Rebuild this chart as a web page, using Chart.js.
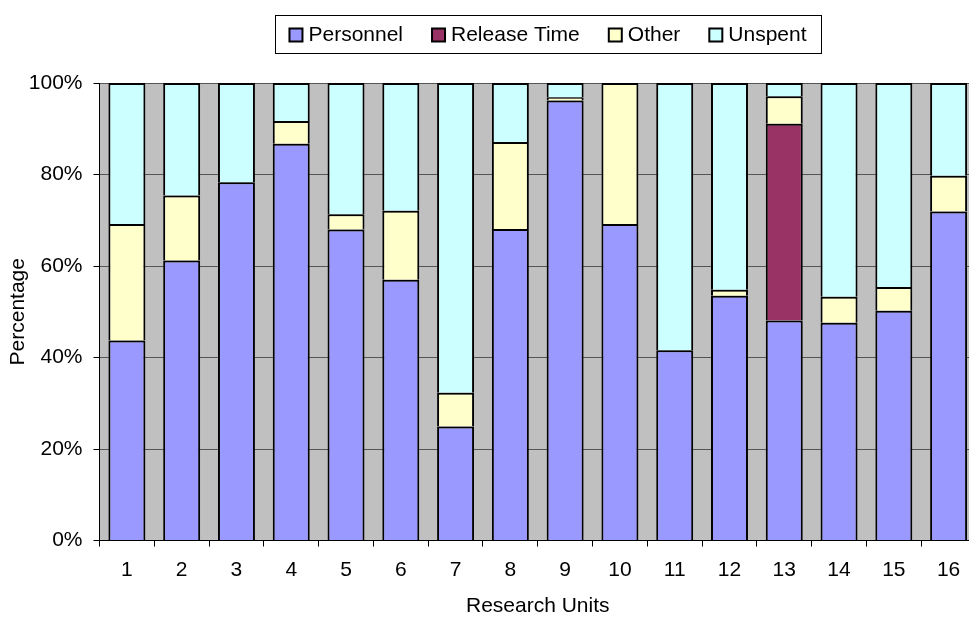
<!DOCTYPE html>
<html>
<head>
<meta charset="utf-8">
<title>Research Units Budget Use</title>
<script src="https://cdn.jsdelivr.net/npm/chart.js@4.4.1/dist/chart.umd.min.js"></script>
<style>
  html, body { margin: 0; padding: 0; background: #ffffff; overflow: hidden; width: 969px; height: 620px; }
  #wrap { position: relative; width: 980px; height: 620px; }
</style>
</head>
<body>
<div id="wrap"><canvas id="chart" width="980" height="620"></canvas></div>
<script>
// Share of each research unit's budget, in percent
const units = ['1', '2', '3', '4', '5', '6', '7', '8', '9', '10', '11', '12', '13', '14', '15', '16'];
const personnel   = [43.7, 61.2, 78.3, 86.7, 68.0, 57.0, 24.9, 68.1, 96.2, 69.2, 41.6, 53.5, 48.1, 47.6, 50.2, 71.9];
const releaseTime = [0, 0, 0, 0, 0, 0, 0, 0, 0, 0, 0, 0, 43.0, 0, 0, 0];
const other       = [25.5, 14.2, 0, 5.0, 3.3, 15.1, 7.4, 19.0, 0.7, 30.8, 0, 1.3, 6.0, 5.7, 5.2, 7.8];
const unspent     = [30.8, 24.6, 21.7, 8.3, 28.7, 27.9, 67.7, 12.9, 3.1, 0, 58.4, 45.2, 2.9, 46.7, 44.6, 20.3];
const yTicks = [0, 20, 40, 60, 80, 100];

const FONT = "'Liberation Sans', Arial, sans-serif";
Chart.defaults.font.family = FONT;
Chart.defaults.font.size = 21;
Chart.defaults.color = '#000';

// grey plotting area behind the bars
const plotBackground = {
  id: 'plotBackground',
  beforeDraw(chart) {
    const { ctx, chartArea: a } = chart;
    ctx.save();
    ctx.fillStyle = '#C0C0C0';
    ctx.fillRect(a.left, a.top, a.right - a.left, a.bottom - a.top);
    ctx.restore();
  }
};

// boxed legend row above the plot
const boxedLegend = {
  id: 'boxedLegend',
  afterDraw(chart) {
    const { ctx } = chart;
    const box = { left: 275, top: 15, right: 821, bottom: 53 };
    const sw = 13, textGap = 6, itemGap = 29;
    ctx.save();
    ctx.font = '21px ' + FONT;
    const items = chart.data.datasets.map(ds => ({
      label: ds.label, color: ds.backgroundColor, w: sw + textGap + ctx.measureText(ds.label).width
    }));
    const total = items.reduce((s, it) => s + it.w, 0) + itemGap * (items.length - 1);
    let x = (box.left + box.right) / 2 - total / 2;
    const cy = (box.top + box.bottom) / 2 + 1;
    ctx.fillStyle = '#fff';
    ctx.fillRect(box.left, box.top, box.right - box.left, box.bottom - box.top);
    ctx.strokeStyle = '#000';
    ctx.lineWidth = 1;
    ctx.strokeRect(box.left + 0.5, box.top + 0.5, box.right - box.left, box.bottom - box.top);
    ctx.textBaseline = 'middle';
    ctx.textAlign = 'left';
    items.forEach(it => {
      ctx.fillStyle = it.color;
      ctx.fillRect(x, cy - sw / 2, sw, sw);
      ctx.lineWidth = 2;
      ctx.strokeStyle = '#000';
      ctx.strokeRect(x, cy - sw / 2, sw, sw);
      ctx.fillStyle = '#000';
      ctx.fillText(it.label, x + sw + textGap, cy);
      x += it.w + itemGap;
    });
    ctx.restore();
  }
};

const barStyle = { borderColor: '#000000', borderWidth: 2, borderSkipped: 'start', barPercentage: 0.675, categoryPercentage: 1.0 };

new Chart(document.getElementById('chart'), {
  type: 'bar',
  data: {
    labels: units,
    datasets: [
      Object.assign({ label: 'Personnel',    data: personnel,   backgroundColor: '#9999FF' }, barStyle),
      Object.assign({ label: 'Release Time', data: releaseTime, backgroundColor: '#993366' }, barStyle),
      Object.assign({ label: 'Other',        data: other,       backgroundColor: '#FFFFCC' }, barStyle),
      Object.assign({ label: 'Unspent',      data: unspent,     backgroundColor: '#CCFFFF' }, barStyle)
    ]
  },
  options: {
    responsive: false,
    animation: false,
    events: [],
    layout: { padding: { top: 83, right: 4, bottom: 0, left: 0 } },
    plugins: { legend: { display: false }, tooltip: { enabled: false } },
    scales: {
      x: {
        stacked: true,
        grid: { offset: true, drawOnChartArea: false, drawTicks: true, tickLength: 6, color: '#000', tickColor: '#000' },
        border: { display: true, color: '#000', width: 1 },
        ticks: { padding: 11, font: { size: 21 }, color: '#000', maxRotation: 0, autoSkip: false },
        title: { display: true, text: 'Research Units', font: { size: 21, lineHeight: 1.2 }, color: '#000', padding: { top: 0, bottom: 1 } },
        afterFit(scale) { scale.height = 79.5; }
      },
      y: {
        stacked: true,
        min: 0,
        max: 100,
        afterBuildTicks(scale) { scale.ticks = yTicks.map(v => ({ value: v })); },
        grid: { drawOnChartArea: true, drawTicks: true, tickLength: 6, color: '#555555', tickColor: '#000', lineWidth: 1 },
        border: { display: true, color: '#000', width: 1 },
        ticks: { padding: 11, font: { size: 21 }, color: '#000', callback: v => v + '%' },
        title: { display: true, text: 'Percentage', font: { size: 21, lineHeight: 1.2 }, color: '#000', padding: { top: 6, bottom: 0 } },
        afterFit(scale) { scale.width = 99.5; }
      }
    }
  },
  plugins: [plotBackground, boxedLegend]
});
</script>
</body>
</html>
